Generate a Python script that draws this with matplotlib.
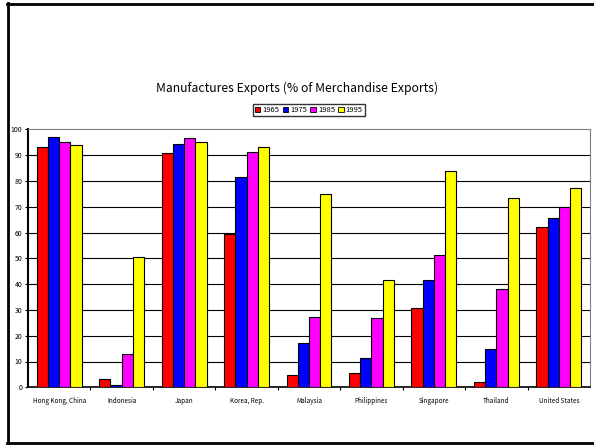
import numpy as np
import matplotlib.pyplot as plt
from matplotlib.lines import Line2D
from matplotlib.patches import Patch

countries = ["Hong Kong, China", "Indonesia", "Japan", "Korea, Rep.", "Malaysia",
             "Philippines", "Singapore", "Thailand", "United States"]
years = ["1965", "1975", "1985", "1995"]
colors = ["#ff0000", "#0000ff", "#ff00ff", "#ffff00"]

exports_1965 = [93.1, 3.3, 90.7, 59.3, 4.9, 5.5, 30.6, 1.9, 62.0]
exports_1975 = [96.9, 0.8, 94.4, 81.4, 17.0, 11.4, 41.5, 14.7, 65.6]
exports_1985 = [95.2, 12.8, 96.5, 91.3, 27.1, 26.7, 51.2, 38.1, 70.0]
exports_1995 = [93.8, 50.4, 95.2, 93.3, 74.8, 41.5, 83.9, 73.3, 77.1]

series = [exports_1965, exports_1975, exports_1985, exports_1995]

plt.rcParams['font.family'] = ['Noto Sans CJK JP', 'DejaVu Sans']

fig = plt.figure(figsize=(5.94, 4.45), dpi=100)
ax = fig.add_axes([28 / 594, 1 - 387.3 / 445, 562 / 594, 258 / 445])

x = np.arange(len(countries))
w = 0.18
for i, (vals, c) in enumerate(zip(series, colors)):
    ax.bar(x + (i - 1.5) * w, vals, width=w, color=c, edgecolor="black",
           linewidth=0.8, zorder=3)

ax.set_xlim(-0.5, len(countries) - 0.5)
ax.set_ylim(0, 100)
ax.set_yticks(range(0, 101, 10))
ax.tick_params(axis="y", labelsize=5, length=2, pad=2)
ax.set_xticks(x)
ax.set_xticklabels(countries, fontsize=4.6)
ax.tick_params(axis="x", length=0, pad=7)
ax.set_xticks(np.arange(0.5, len(countries) - 1, 1), minor=True)
ax.tick_params(axis="x", which="minor", length=2, width=0.8)

for v in range(10, 100, 10):
    ax.axhline(v, color="black", linewidth=0.8, zorder=1)

ax.spines["left"].set_linewidth(1.5)
ax.spines["bottom"].set_linewidth(1.2)
for s in ["top", "right"]:
    ax.spines[s].set_color("#808080")
    ax.spines[s].set_linewidth(0.8)

fig.text(0.5, 1 - 88 / 445, "Manufactures Exports (% of Merchandise Exports)",
         ha="center", va="center", fontsize=8.8)

handles = [Patch(facecolor=c, edgecolor="black", linewidth=0.6) for c in colors]
fig.legend(handles, years, loc="center", bbox_to_anchor=(309 / 594, 1 - 110 / 445),
           ncol=4, fontsize=5.5, frameon=True, fancybox=False, edgecolor="black",
           handlelength=0.7, handleheight=0.7, handletextpad=0.3, columnspacing=0.4,
           borderpad=0.3, borderaxespad=0)

# outer frame
fig.add_artist(Line2D([7.5 / 594, 7.5 / 594], [1 - 3 / 445, 1 - 443 / 445],
                      color="black", linewidth=2))
fig.add_artist(Line2D([7 / 594, 1], [1 - 4 / 445, 1 - 4 / 445], color="black", linewidth=2))
fig.add_artist(Line2D([7 / 594, 1], [1 - 442.5 / 445, 1 - 442.5 / 445],
                      color="black", linewidth=2))

fig.savefig("out.png", dpi=100)
